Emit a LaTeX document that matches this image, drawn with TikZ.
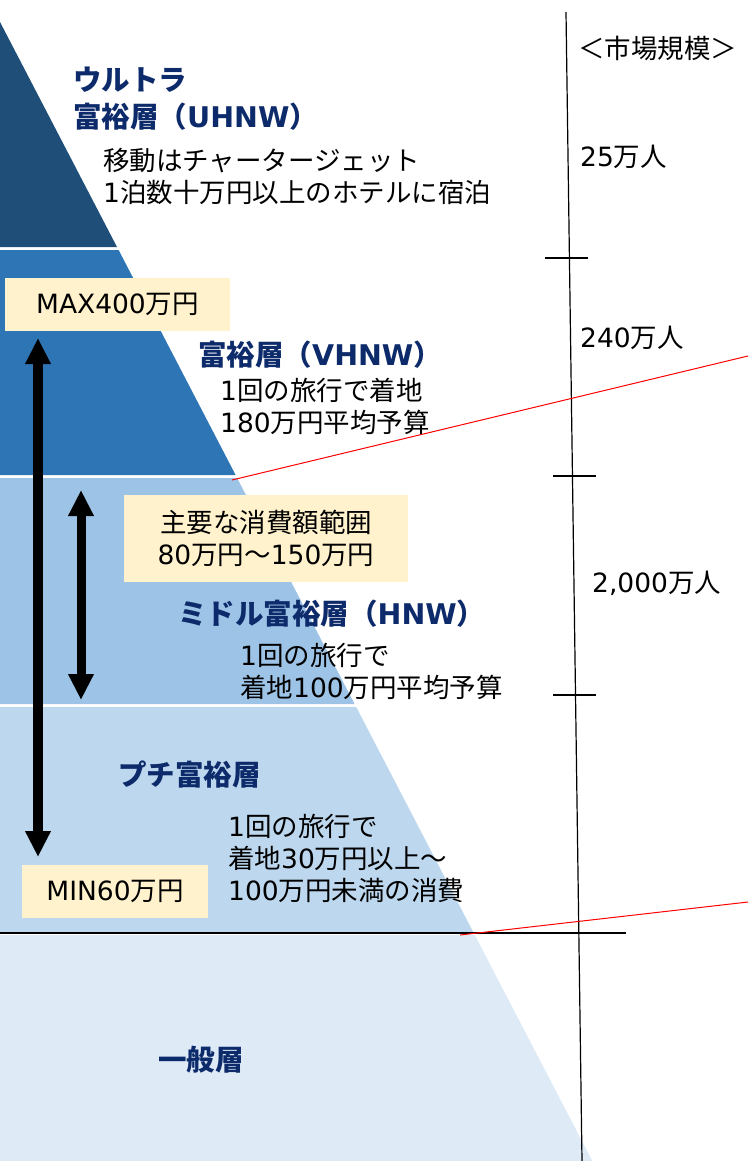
\documentclass[tikz,border=0pt]{standalone}
\usepackage{fontspec}
\setmainfont{Noto Sans CJK JP}
\newfontfamily\lat{DejaVu Sans}
\usetikzlibrary{arrows.meta}
\definecolor{lay1}{HTML}{1F4E79}
\definecolor{lay2}{HTML}{2E75B6}
\definecolor{lay3}{HTML}{9DC3E6}
\definecolor{lay4}{HTML}{BDD7EE}
\definecolor{lay5}{HTML}{DEEBF7}
\definecolor{navy}{HTML}{0D2B6B}
\definecolor{boxfill}{HTML}{FFF2CC}
\tikzset{
  title/.style={anchor=west,inner sep=0pt,text=navy,font=\fontsize{28.5}{34}\selectfont\bfseries},
  body/.style={anchor=west,inner sep=0pt,align=left,font=\fontsize{26.5}{32}\selectfont},
  side/.style={anchor=west,inner sep=0pt,font=\fontsize{26.5}{32}\selectfont},
  valbox/.style={fill=boxfill,draw=none,align=center,font=\fontsize{26.5}{32}\selectfont},
  bigarrow/.style={line width=10pt,{Triangle[width=24pt,length=26pt]}-{Triangle[width=24pt,length=26pt]}},
  tickline/.style={line width=1.6pt},
  redline/.style={red,line width=1pt}
}
\begin{document}
\begin{tikzpicture}[x=1pt,y=-1pt]
\useasboundingbox (0,0) rectangle (748,1161);
% pyramid layers (right edge x = 0.52*(y-22))
\fill[lay1] (0,22) -- (117,247) -- (0,247) -- cycle;
\fill[lay2] (0,250) -- (118.6,250) -- (235.6,475) -- (0,475) -- cycle;
\fill[lay3] (0,478) -- (237.1,478) -- (354.6,704) -- (0,704) -- cycle;
\fill[lay4] (0,707) -- (356.2,707) -- (473.7,933) -- (0,933) -- cycle;
\fill[lay5] (0,935) -- (474.8,935) -- (592.3,1161) -- (0,1161) -- cycle;
% base line
\coordinate (bl0) at (0,933);
\coordinate (bl1) at (626,933);
\draw[line width=1.2pt] (bl0) -- (bl1);
% axis
\coordinate (axT) at (566,12);
\coordinate (axB) at (582,1161);
\draw[line width=1.2pt] (axT) -- (axB);
\coordinate (t1a) at (545,258); \coordinate (t1b) at (588,258);
\coordinate (t2a) at (553,476); \coordinate (t2b) at (596,476);
\coordinate (t3a) at (553,695); \coordinate (t3b) at (596,695);
\draw[tickline] (t1a) -- (t1b);
\draw[tickline] (t2a) -- (t2b);
\draw[tickline] (t3a) -- (t3b);
% red lines
\coordinate (r1a) at (232,480); \coordinate (r1b) at (748,356);
\coordinate (r2a) at (460,935); \coordinate (r2b) at (748,902);
\draw[redline] (r1a) -- (r1b);
\draw[redline] (r2a) -- (r2b);
% titles and texts
\node[title] (t-ultra1) at (73,80) {ウルトラ};
\node[title] (t-ultra2) at (73,117) {富裕層（{\lat UHNW}）};
\node[body] (b-ultra) at (103,176) {移動はチャータージェット\\{\lat 1}泊数十万円以上のホテルに宿泊};
\node[side] (s-head) at (578,48) {＜市場規模＞};
\node[side] (s-25) at (580,157) {{\lat 25}万人};
\node[side] (s-240) at (580,338) {{\lat 240}万人};
\node[side] (s-2000) at (592,583) {{\lat 2,000}万人};
\node[valbox,minimum width=225pt,minimum height=53pt] (maxbox) at (117.5,304.5) {{\lat MAX400}万円};
\node[title] (t-vh) at (198,355) {富裕層（{\lat VHNW}）};
\node[body] (b-vh) at (220,406) {{\lat 1}回の旅行で着地\\{\lat 180}万円平均予算};
\node[valbox,minimum width=284pt,minimum height=87pt] (rangebox) at (266,538.5) {主要な消費額範囲\\{\lat 80}万円～{\lat 150}万円};
\node[title] (t-hnw) at (178,614) {ミドル富裕層（{\lat HNW}）};
\node[body] (b-hnw) at (240,671) {{\lat 1}回の旅行で\\着地{\lat 100}万円平均予算};
\node[title] (t-petit) at (118,775) {プチ富裕層};
\node[body] (b-petit) at (228,858) {{\lat 1}回の旅行で\\着地{\lat 30}万円以上～\\{\lat 100}万円未満の消費};
\node[valbox,minimum width=186pt,minimum height=53pt] (minbox) at (115,891.5) {{\lat MIN60}万円};
\node[title] (t-gen) at (158,1060) {一般層};
% arrows
\coordinate (a1t) at (38,338); \coordinate (a1b) at (38,857);
\coordinate (a2t) at (81,490); \coordinate (a2b) at (81,700);
\draw[bigarrow] (a1t) -- (a1b);
\draw[bigarrow,line width=9pt] (a2t) -- (a2b);
\end{tikzpicture}
\end{document}
